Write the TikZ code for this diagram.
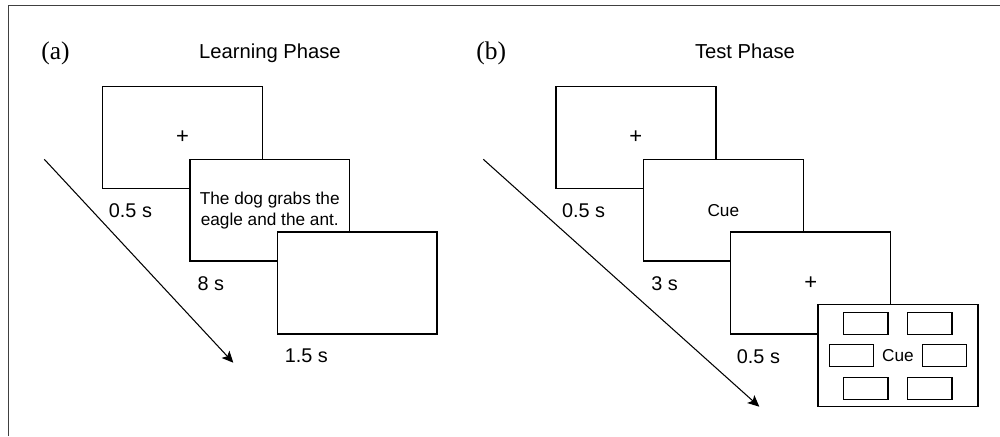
\documentclass[tikz,border=0pt]{standalone}
\usepackage{fontspec}
\setmainfont{Liberation Sans}
\newfontfamily\serifx{Liberation Serif}
\usetikzlibrary{arrows.meta}
\begin{document}
\begin{tikzpicture}[x=0.02cm,y=-0.02cm,
  screen/.style={draw, line width=0.85pt, fill=white, minimum width=3.2cm, minimum height=2.04cm, inner sep=0pt,
    font=\fontsize{9.8}{12}\selectfont, align=center},
  fixation/.style={screen, font=\fontsize{12.5}{14}\selectfont},
  choice/.style={draw, line width=0.75pt, fill=white, minimum width=0.886cm, minimum height=0.44cm, inner sep=0pt},
  timelbl/.style={anchor=west, inner sep=0pt, font=\fontsize{11.3}{13}\selectfont},
  phase/.style={anchor=base, inner sep=0pt, font=\fontsize{11.5}{13}\selectfont},
  panel/.style={anchor=base west, inner sep=0pt, font=\serifx\fontsize{14.5}{16}\selectfont},
  timearrow/.style={line width=0.6pt, -{Stealth[length=6.5pt, width=6pt, inset=1.5pt]}}]
\useasboundingbox (0,0) rectangle (1000,436);
\fill[white] (0,0) rectangle (1000,436);
% frame
\draw[line width=0.7pt, black!75] (8.7,436) |- (1000,5.5);

% titles
\node[panel] (la) at (41,59.5) {(a)};
\node[panel] (lb) at (476,59.5) {(b)};
\node[phase] (tA) at (270,58) {Learning Phase};
\node[phase] (tB) at (745,58) {Test Phase};

% panel a
\node[fixation] (A1) at (182.5,137.5) {+};
\node[screen] (A2) at (269.75,210.25) {The dog grabs the\\eagle and the ant.};
\node[screen] (A3) at (357.25,283) {};
\node[timelbl] (tA1) at ([shift={(6.8,21.5)}]A1.south west) {0.5 s};
\node[timelbl] (tA2) at ([shift={(8.2,21.5)}]A2.south west) {8 s};
\node[timelbl] (tA3) at ([shift={(8,21.5)}]A3.south west) {1.5 s};
\coordinate (a0) at (44.3,159.3);
\coordinate (a1) at (233.3,362.7);
\draw[timearrow] (a0) -- (a1);

% panel b
\node[fixation] (B1) at (635.8,137.5) {+};
\node[screen] (B2) at (723.3,210.25) {Cue};
\node[fixation] (B3) at (810.7,283) {+};
\node[screen] (B4) at (897.9,355.7) {Cue};
\node[choice] (c1) at (865.8,323.2) {};
\node[choice] (c2) at (929.9,323.2) {};
\node[choice] (c3) at (851.5,355.5) {};
\node[choice] (c4) at (944.5,355.5) {};
\node[choice] (c5) at (865.8,388.3) {};
\node[choice] (c6) at (929.9,388.3) {};
\node[timelbl] (tB1) at ([shift={(6.6,21.5)}]B1.south west) {0.5 s};
\node[timelbl] (tB2) at ([shift={(8.4,21.5)}]B2.south west) {3 s};
\node[timelbl] (tB3) at ([shift={(6.6,21.5)}]B3.south west) {0.5 s};
\coordinate (b0) at (483.3,159.3);
\coordinate (b1) at (759.3,406.7);
\draw[timearrow] (b0) -- (b1);
\end{tikzpicture}
\end{document}
